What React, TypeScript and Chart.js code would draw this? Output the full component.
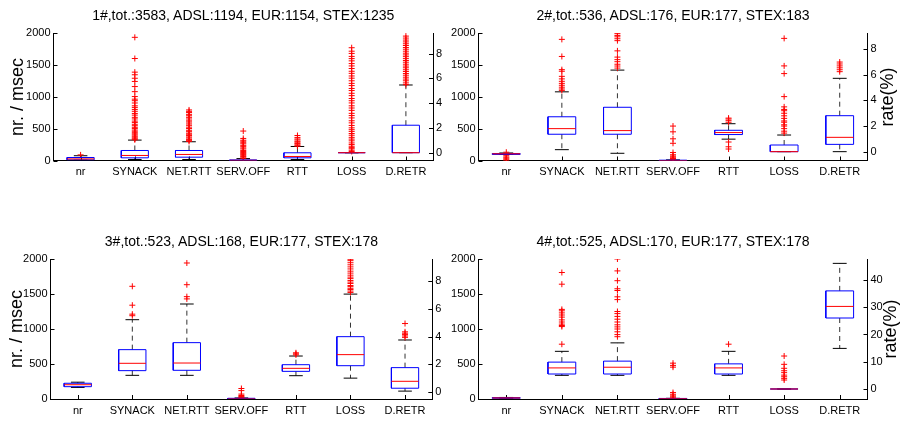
import React, { useEffect, useRef } from 'react';
import { Chart, registerables } from 'chart.js';

Chart.register(...registerables);

// ---------------- data ----------------
const CATEGORIES = ['nr', 'SYNACK', 'NET.RTT', 'SERV.OFF', 'RTT', 'LOSS', 'D.RETR'];
const TITLES = [
  '1#,tot.:3583, ADSL:1194, EUR:1154, STEX:1235',
  '2#,tot.:536, ADSL:176, EUR:177, STEX:183',
  '3#,tot.:523, ADSL:168, EUR:177, STEX:178',
  '4#,tot.:525, ADSL:170, EUR:177, STEX:178',
];
const LEFT_LABEL = 'nr. / msec';
const RIGHT_LABEL = 'rate(%)';
const LEFT_TICKS = [0, 500, 1000, 1500, 2000];
const RATE_TICKS_SMALL = [0, 2, 4, 6, 8];
const RATE_TICKS_LARGE = [0, 10, 20, 30, 40];

// panel 1 (LOSS and D.RETR are rates in %)
const P1_Q1 = [10, 42, 52, 0, 42, 0, 0];
const P1_MED = [25, 79, 95, 3, 63, 0, 0];
const P1_Q3 = [47, 157, 157, 10, 121, 0, 2.22];
const P1_LO = [5, 16, 16, 0, 16, 0, 0];
const P1_HI = [75, 320, 294, 30, 220, 0, 5.47];
const P1_OUT = [
  [88],
  [325, 338, 352, 368, 383, 401, 418, 436, 459, 478, 503, 521, 546, 568, 597, 618, 652, 677, 712, 738, 772, 801, 833, 858, 902, 938, 962, 1003, 1080, 1160, 1240, 1290, 1345, 1386, 1600, 1932],
  [300, 316, 331, 352, 369, 391, 412, 428, 452, 474, 501, 523, 552, 574, 603, 622, 651, 677, 702, 724, 752, 771, 793],
  [35, 52, 64, 81, 96, 112, 124, 142, 158, 181, 198, 222, 238, 262, 279, 302, 318, 346, 462],
  [225, 238, 256, 268, 287, 301, 322, 338, 362, 392],
  [0.1, 0.2, 0.32, 0.41, 0.52, 0.66, 0.79, 0.96, 1.1, 1.24, 1.41, 1.55, 1.72, 1.86, 2.01, 2.2, 2.41, 2.58, 2.81, 3.0, 3.18, 3.42, 3.61, 3.79, 4.02, 4.2, 4.38, 4.61, 4.8, 5.02, 5.19, 5.42, 5.6, 5.81, 6.02, 6.2, 6.41, 6.58, 6.8, 7.01, 7.2, 7.42, 7.6, 7.78, 8.02, 8.2, 8.48],
  [5.5, 5.64, 5.81, 5.95, 6.1, 6.26, 6.4, 6.56, 6.7, 6.86, 7.0, 7.15, 7.31, 7.45, 7.6, 7.76, 7.9, 8.04, 8.2, 8.36, 8.5, 8.66, 8.8, 8.95, 9.1, 9.26, 9.42],
];

// panel 2
const P2_Q1 = [95, 412, 412, 0, 407, 0, 0.57];
const P2_MED = [105, 500, 469, 0, 438, 0, 1.12];
const P2_Q3 = [110, 686, 835, 5, 474, 0.52, 2.81];
const P2_LO = [95, 170, 113, 0, 335, 0, 0];
const P2_HI = [118, 1077, 1418, 10, 577, 1.3, 5.73];
const P2_OUT = [
  [130, 75, 55, 40, 25, 10, 0],
  [1100, 1122, 1150, 1180, 1210, 1242, 1280, 1320, 1400, 1425, 1632, 1900],
  [1450, 1482, 1510, 1550, 1582, 1622, 1720, 1880, 1910, 1940, 1962, 1990],
  [540, 450, 340, 270, 125, 90, 70, 55, 40, 30, 20, 10],
  [600, 625, 650, 665, 290, 215, 180],
  [1.45, 1.6, 1.8, 2.0, 2.1, 2.3, 2.4, 2.6, 2.8, 3.0, 3.2, 3.3, 3.5, 4.3, 6.1, 6.7, 8.85],
  [6.25, 6.4, 6.55, 6.7, 6.85, 7.0],
];

// panel 3
const P3_Q1 = [176, 405, 410, 0, 395, 1.9, 0.27];
const P3_MED = [204, 510, 514, 0, 438, 2.7, 0.77];
const P3_Q3 = [225, 705, 805, 10, 490, 4.0, 1.76];
const P3_LO = [165, 338, 338, 0, 333, 1.0, 0.06];
const P3_HI = [240, 1133, 1357, 15, 614, 7.08, 3.76];
const P3_OUT = [
  [],
  [1190, 1212, 1340, 1610],
  [1430, 1462, 1633, 1943],
  [15, 25, 35, 50, 70, 120, 150],
  [630, 645, 660],
  [7.2, 7.3, 7.41, 7.5, 7.62, 7.7, 7.85, 7.95, 8.06, 8.2, 8.31, 8.45, 8.6, 8.74, 8.9, 9.05, 9.2, 9.35, 9.5, 9.6],
  [3.95, 4.05, 4.15, 4.25, 4.35, 4.95],
];

// panel 4
const P4_Q1 = [10, 357, 357, 0, 357, 0, 26.05];
const P4_MED = [15, 444, 454, 2, 444, 0, 30.3];
const P4_Q3 = [20, 527, 541, 8, 502, 0, 36.0];
const P4_LO = [5, 338, 338, 0, 338, 0, 14.9];
const P4_HI = [22, 681, 802, 10, 681, 0, 46.1];
const P4_OUT = [
  [],
  [783, 1035, 1050, 1070, 1100, 1130, 1170, 1200, 1230, 1260, 1280, 1640, 1807],
  [890, 920, 960, 1000, 1030, 1060, 1100, 1140, 1180, 1220, 1250, 1420, 1460, 1550, 1575, 1690, 1830, 2000],
  [0, 15, 30, 45, 68, 92, 455, 480, 512],
  [783],
  [3.3, 3.9, 4.5, 5.1, 6.0, 6.7, 7.6, 9.05, 12.1],
  [],
];

// ---------------- helpers ----------------
const FAMILY = "'Liberation Sans', Arial, Helvetica, sans-serif";

const inwardTicks = {
  id: 'inwardTicks',
  beforeDatasetsDraw(chart: any) {
    const { ctx, chartArea } = chart;
    const L = 4;
    ctx.save();
    ctx.strokeStyle = '#000';
    ctx.lineWidth = 1;
    ctx.beginPath();
    const sx = chart.scales.x;
    sx.ticks.forEach((t: any) => {
      const px = Math.round(sx.getPixelForValue(t.value)) + 0.5;
      ctx.moveTo(px, chartArea.bottom);
      ctx.lineTo(px, chartArea.bottom - L);
    });
    const sy = chart.scales.y;
    sy.ticks.forEach((t: any) => {
      const py = Math.round(sy.getPixelForValue(t.value)) + 0.5;
      ctx.moveTo(chartArea.left, py);
      ctx.lineTo(chartArea.left + L, py);
    });
    const sy2 = chart.scales.y2;
    sy2.ticks.forEach((t: any) => {
      const py = Math.round(sy2.getPixelForValue(t.value)) + 0.5;
      ctx.moveTo(chartArea.right, py);
      ctx.lineTo(chartArea.right - L, py);
    });
    ctx.stroke();
    ctx.restore();
  },
};

function makeDatasets(q1: number[], med: number[], q3: number[], lo: number[], hi: number[], out: number[][]) {
  const groups = [
    { axis: 'y', idx: [0, 1, 2, 3, 4] },
    { axis: 'y2', idx: [5, 6] },
  ];
  const W = 0.25;
  const C = 0.125;
  const ds: any[] = [];
  for (const g of groups) {
    const boxes: any[] = [];
    const meds: any[] = [];
    const whisk: any[] = [];
    const caps: any[] = [];
    const pts: any[] = [];
    for (const i of g.idx) {
      const p = i + 1;
      boxes.push(
        { x: p - W, y: q1[i] }, { x: p + W, y: q1[i] }, { x: p + W, y: q3[i] },
        { x: p - W, y: q3[i] }, { x: p - W, y: q1[i] }, { x: p, y: null }
      );
      meds.push({ x: p - W, y: med[i] }, { x: p + W, y: med[i] }, { x: p, y: null });
      whisk.push(
        { x: p, y: q3[i] }, { x: p, y: hi[i] }, { x: p, y: null },
        { x: p, y: q1[i] }, { x: p, y: lo[i] }, { x: p, y: null }
      );
      caps.push(
        { x: p - C, y: hi[i] }, { x: p + C, y: hi[i] }, { x: p, y: null },
        { x: p - C, y: lo[i] }, { x: p + C, y: lo[i] }, { x: p, y: null }
      );
      for (const v of out[i]) pts.push({ x: p, y: v });
    }
    const line = { showLine: true, pointRadius: 0, pointHoverRadius: 0, fill: false, spanGaps: false, yAxisID: g.axis };
    ds.push({ ...line, data: meds, borderColor: '#ff0000', borderWidth: 1, order: 0 });
    ds.push({ ...line, data: boxes, borderColor: '#0000ff', borderWidth: 1, order: 1 });
    ds.push({
      data: pts, yAxisID: g.axis, showLine: false, pointStyle: 'cross', pointRadius: 3,
      pointBorderColor: '#ff0000', borderColor: '#ff0000', pointBorderWidth: 1, pointHoverRadius: 0, order: 2,
    });
    ds.push({ ...line, data: caps, borderColor: '#000000', borderWidth: 1, order: 3 });
    ds.push({ ...line, data: whisk, borderColor: '#333333', borderWidth: 1, borderDash: [5, 4], order: 4 });
  }
  return ds;
}

type Panel = {
  title: string;
  q1: number[]; med: number[]; q3: number[]; lo: number[]; hi: number[]; out: number[][];
  rateMin: number; rateMax: number; rateTicks: number[];
  canvas: { x: number; y: number; w: number; h: number };
  area: { l: number; r: number; t: number; b: number };
  label: 'left' | 'right';
  labelX: number;
};

const PANELS: Panel[] = [
  {
    title: TITLES[0], q1: P1_Q1, med: P1_MED, q3: P1_Q3, lo: P1_LO, hi: P1_HI, out: P1_OUT,
    rateMin: -0.63, rateMax: 9.67, rateTicks: RATE_TICKS_SMALL,
    canvas: { x: 0, y: 20, w: 450, h: 170 }, area: { l: 53.5, r: 433, t: 33, b: 160.5 }, label: 'left', labelX: 17,
  },
  {
    title: TITLES[1], q1: P2_Q1, med: P2_MED, q3: P2_Q3, lo: P2_LO, hi: P2_HI, out: P2_OUT,
    rateMin: -0.69, rateMax: 9.27, rateTicks: RATE_TICKS_SMALL,
    canvas: { x: 450, y: 20, w: 451, h: 170 }, area: { l: 478.5, r: 867.5, t: 33, b: 160.5 }, label: 'right', labelX: 886.5,
  },
  {
    title: TITLES[2], q1: P3_Q1, med: P3_MED, q3: P3_Q3, lo: P3_LO, hi: P3_HI, out: P3_OUT,
    rateMin: -0.51, rateMax: 9.62, rateTicks: RATE_TICKS_SMALL,
    canvas: { x: 0, y: 248, w: 450, h: 175 }, area: { l: 50.5, r: 432.3, t: 259, b: 399 }, label: 'left', labelX: 16,
  },
  {
    title: TITLES[3], q1: P4_Q1, med: P4_MED, q3: P4_Q3, lo: P4_LO, hi: P4_HI, out: P4_OUT,
    rateMin: -3.67, rateMax: 47.7, rateTicks: RATE_TICKS_LARGE,
    canvas: { x: 450, y: 248, w: 451, h: 175 }, area: { l: 478.5, r: 867.5, t: 259, b: 399 }, label: 'right', labelX: 890,
  },
];

function BoxPanel({ panel }: { panel: Panel }) {
  const ref = useRef<HTMLCanvasElement>(null);
  useEffect(() => {
    if (!ref.current) return;
    const { canvas, area } = panel;
    const ML = area.l - canvas.x;
    const MR = canvas.x + canvas.w - area.r;
    const MT = area.t - canvas.y;
    const MB = canvas.y + canvas.h - area.b;
    const xFont = { family: FAMILY, size: 11 };
    const yFont = { family: FAMILY, size: 11 };
    const chart = new Chart(ref.current, {
      type: 'line',
      data: { datasets: makeDatasets(panel.q1, panel.med, panel.q3, panel.lo, panel.hi, panel.out) },
      plugins: [inwardTicks],
      options: {
        animation: false,
        responsive: false,
        devicePixelRatio: 1,
        events: [],
        layout: { padding: { top: MT, left: 0, right: 0, bottom: 0 } },
        plugins: { legend: { display: false }, tooltip: { enabled: false }, title: { display: false } },
        scales: {
          x: {
            type: 'linear', min: 0.5, max: 7.5,
            afterBuildTicks: (s: any) => { s.ticks = CATEGORIES.map((_, i) => ({ value: i + 1 })); },
            afterFit: (s: any) => { s.height = MB; },
            ticks: {
              autoSkip: false, maxRotation: 0, minRotation: 0, padding: 5, color: '#000', font: xFont,
              callback: (v: any) => CATEGORIES[Math.round(Number(v)) - 1] ?? '',
            },
            grid: { display: true, drawOnChartArea: false, drawTicks: false },
            border: { display: true, color: '#000', width: 1 },
          },
          y: {
            type: 'linear', position: 'left', min: 0, max: 2000,
            afterBuildTicks: (s: any) => { s.ticks = LEFT_TICKS.map((v) => ({ value: v })); },
            afterFit: (s: any) => { s.width = ML; },
            ticks: { padding: 3, color: '#000', font: yFont, callback: (v: any) => String(v) },
            grid: { display: true, drawOnChartArea: false, drawTicks: false },
            border: { display: true, color: '#000', width: 1 },
          },
          y2: {
            type: 'linear', position: 'right', min: panel.rateMin, max: panel.rateMax,
            afterBuildTicks: (s: any) => { s.ticks = panel.rateTicks.map((v) => ({ value: v })); },
            afterFit: (s: any) => { s.width = MR; },
            ticks: { padding: 3, color: '#000', font: yFont, callback: (v: any) => String(v) },
            grid: { display: true, drawOnChartArea: false, drawTicks: false },
            border: { display: true, color: '#000', width: 1 },
          },
        },
      } as any,
    });
    return () => chart.destroy();
  }, [panel]);

  const { canvas } = panel;
  return (
    <canvas
      ref={ref}
      width={canvas.w}
      height={canvas.h}
      style={{ position: 'absolute', left: canvas.x, top: canvas.y, width: canvas.w, height: canvas.h }}
    />
  );
}

const textBase: React.CSSProperties = {
  position: 'absolute',
  fontFamily: FAMILY,
  color: '#000',
  whiteSpace: 'nowrap',
  lineHeight: 1,
};

export default function App() {
  useEffect(() => {
    document.body.style.margin = '0';
  }, []);
  return (
    <div style={{ position: 'absolute', left: 0, top: 0, width: 901, height: 426, background: '#fff', overflow: 'hidden' }}>
      {PANELS.map((p, i) => (
        <BoxPanel key={i} panel={p} />
      ))}
      {PANELS.map((p, i) => {
        const cx = (p.area.l + p.area.r) / 2;
        const cy = p.area.t - 18;
        return (
          <div key={'t' + i} style={{ ...textBase, left: cx, top: cy, fontSize: 14, transform: 'translate(-50%, -50%)' }}>
            {p.title}
          </div>
        );
      })}
      {PANELS.map((p, i) => {
        const cy = (p.area.t + p.area.b) / 2;
        return (
          <div
            key={'l' + i}
            style={{ ...textBase, left: p.labelX, top: cy, fontSize: 18, transform: 'translate(-50%, -50%) rotate(-90deg)' }}
          >
            {p.label === 'left' ? LEFT_LABEL : RIGHT_LABEL}
          </div>
        );
      })}
    </div>
  );
}
